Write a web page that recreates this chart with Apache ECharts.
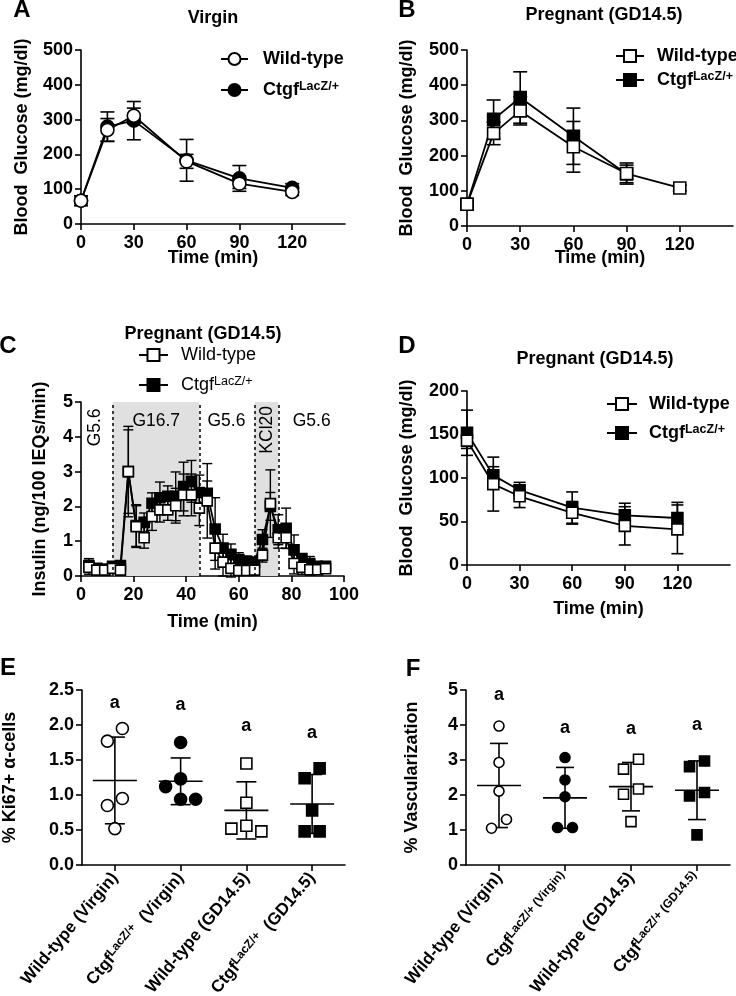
<!DOCTYPE html>
<html><head><meta charset="utf-8">
<script src="https://cdn.jsdelivr.net/npm/echarts@6/dist/echarts.min.js"></script>
<style>html,body{margin:0;padding:0;background:#fff}#c{width:736px;height:996px}</style>
</head><body><div id="c"></div>
<script>
// ---------------- DATA ----------------
const gttTime = [0, 15, 30, 60, 90, 120];
const aWtMean = [67, 270, 311, 180, 116, 92];
const aWtErr  = [14, 33, 22, 20, 14, 10];
const aKoMean = [67, 280, 297, 183, 131, 104];
const aKoErr  = [14, 42, 55, 60, 37, 12];

const bWtMean = [62, 263, 327, 225, 149, 108];
const bWtErr  = [8, 32, 40, 72, 30, 8];
const bKoMean = [62, 303, 365, 255, 148];
const bKoErr  = [10, 55, 73, 80, 25];

const perifTime = [3,6,9,12,15,18,21,24,27,30,33,36,39,42,45,48,51,54,57,60,63,66,69,72,75,78,81,84,87,90,93];
const cWtMean = [0.25,0.17,0.17,0.22,0.17,3.0,1.42,1.1,1.71,1.9,1.9,2.02,2.33,2.33,1.95,2.16,0.8,0.4,0.22,0.16,0.16,0.17,0.6,2.08,1.1,1.1,0.36,0.25,0.18,0.18,0.21];
const cWtErr  = [0.2,0.05,0.05,0.05,0.05,1.3,0.6,0.3,0.4,0.35,0.3,0.5,0.6,0.6,0.5,1.07,0.6,0.4,0.25,0.1,0.1,0.1,0.2,0.97,0.3,0.3,0.3,0.2,0.15,0.1,0.1];
const cKoMean = [0.3,0.22,0.2,0.28,0.3,3.0,1.45,1.54,2.09,2.25,2.29,2.29,2.57,2.72,2.4,2.38,1.35,0.8,0.62,0.47,0.42,0.4,1.05,2.0,1.33,1.37,0.75,0.5,0.36,0.27,0.28];
const cKoErr  = [0.2,0.1,0.1,0.1,0.1,1.2,0.6,0.27,0.3,0.45,0.3,0.7,0.7,0.6,0.5,0.35,0.9,0.4,0.3,0.2,0.15,0.1,0.28,0.4,0.43,0.58,0.43,0.1,0.2,0.15,0.1];
const cPhaseStart = [12, 66];
const cPhaseEnd   = [45, 75];
const cBoundaries = [12, 45, 66, 75];
const cPhaseText  = ['G5.6', 'G16.7', 'G5.6', 'KCl20', 'G5.6'];
const cPhaseX     = [5.5, 28.6, 55.3, 70.6, 87.7];
const cPhaseY     = [4.27, 4.45, 4.45, 4.2, 4.45];
const cPhaseVertical = [true, false, false, true, false];

const ittTime = [0, 15, 30, 60, 90, 120];
const dWtMean = [143, 93, 79, 60, 45, 41];
const dWtErr  = [9, 31, 13, 13, 22, 28];
const dKoMean = [152, 103, 86, 66, 57, 54];
const dKoErr  = [26, 10, 9, 18, 14, 18];

const groups = ['Wild-type (Virgin)', 'CtgfLacZ/+ (Virgin)', 'Wild-type (GD14.5)', 'CtgfLacZ/+ (GD14.5)'];
const eWtVirgin = [1.95, 1.77, 0.95, 0.85, 0.52];
const eKoVirgin = [1.75, 1.23, 1.12, 0.94, 0.94];
const eWtPreg   = [1.45, 0.89, 0.56, 0.52, 0.48];
const eKoPreg   = [1.38, 1.24, 0.78, 0.48, 0.48];
const eLetters  = ['a', 'a', 'a', 'a'];
const eLetterY  = [2.31, 2.28, 1.98, 1.88];
const fWtVirgin = [3.97, 2.93, 2.11, 1.30, 1.05];
const fKoVirgin = [3.07, 2.43, 1.95, 1.07, 1.07];
const fWtPreg   = [3.02, 2.74, 2.17, 2.02, 1.24];
const fKoPreg   = [2.97, 2.81, 2.07, 1.97, 0.86];
const fLetters  = ['a', 'a', 'a', 'a'];
const fLetterY  = [4.86, 3.9, 3.88, 4.0];

// ---------------- HELPERS ----------------
const FONT = '"Liberation Sans", Arial, Helvetica, sans-serif';
const BLACK = '#000';
function pairs(xs, ys) { return ys.map((y, i) => [xs[i], y]); }
function triples(xs, m, e) { return m.map((v, i) => [xs[i], v, e[i]]); }
function mean(a) { return a.reduce((s, v) => s + v, 0) / a.length; }
function sd(a) { const m = mean(a); return Math.sqrt(a.reduce((s, v) => s + (v - m) * (v - m), 0) / (a.length - 1)); }

function errSeries(gi, data, cap, lw) {
  return {
    type: 'custom', xAxisIndex: gi, yAxisIndex: gi, z: 2, silent: true, clip: false,
    encode: { x: 0, y: 1 }, data: data,
    renderItem: function (p, api) {
      const x = api.value(0), y = api.value(1), d = api.value(2);
      const t = api.coord([x, y + d]), b = api.coord([x, y - d]);
      const st = { stroke: BLACK, lineWidth: lw };
      return { type: 'group', children: [
        { type: 'line', shape: { x1: t[0], y1: t[1], x2: b[0], y2: b[1] }, style: st },
        { type: 'line', shape: { x1: t[0] - cap, y1: t[1], x2: t[0] + cap, y2: t[1] }, style: st },
        { type: 'line', shape: { x1: b[0] - cap, y1: b[1], x2: b[0] + cap, y2: b[1] }, style: st }
      ] };
    }
  };
}
function lineSeries(gi, name, data, symbol, open, size, z) {
  return {
    type: 'line', name: name, xAxisIndex: gi, yAxisIndex: gi, data: data, z: z,
    symbol: symbol, symbolSize: size, showAllSymbol: true, silent: true,
    lineStyle: { color: BLACK, width: 1.8 },
    itemStyle: { color: open ? '#fff' : BLACK, borderColor: BLACK, borderWidth: 1.6, opacity: 1 },
    emphasis: { disabled: true }
  };
}
function statSeries(gi, groupsVals, halfMean, halfCap) {
  return {
    type: 'custom', xAxisIndex: gi, yAxisIndex: gi, z: 2, silent: true, clip: false,
    encode: { x: 0, y: 1 },
    data: groupsVals.map((g, i) => [i, mean(g), sd(g)]),
    renderItem: function (p, api) {
      const c = api.value(0), m = api.value(1), s = api.value(2);
      const pm = api.coord([c, m]), pt = api.coord([c, m + s]), pb = api.coord([c, m - s]);
      const st = { stroke: BLACK, lineWidth: 1.6 };
      return { type: 'group', children: [
        { type: 'line', shape: { x1: pm[0] - halfMean, y1: pm[1], x2: pm[0] + halfMean, y2: pm[1] }, style: st },
        { type: 'line', shape: { x1: pt[0], y1: pt[1], x2: pb[0], y2: pb[1] }, style: st },
        { type: 'line', shape: { x1: pt[0] - halfCap, y1: pt[1], x2: pt[0] + halfCap, y2: pt[1] }, style: st },
        { type: 'line', shape: { x1: pb[0] - halfCap, y1: pb[1], x2: pb[0] + halfCap, y2: pb[1] }, style: st }
      ] };
    }
  };
}
function letterSeries(gi, letters, ys) {
  return {
    type: 'custom', xAxisIndex: gi, yAxisIndex: gi, z: 5, silent: true, clip: false,
    encode: { x: 0, y: 1 },
    data: ys.map((y, i) => [i, y, i]),
    renderItem: function (p, api) {
      const pt = api.coord([api.value(0), api.value(1)]);
      return { type: 'text', x: pt[0], y: pt[1],
        style: { text: letters[api.value(2)], font: 'bold 18px ' + FONT, fill: BLACK, align: 'center', verticalAlign: 'middle' } };
    }
  };
}
// horizontal spreading of overlapping dots (computed, GraphPad-like)
function swarm(vals, ppu, diam, step) {
  const order = vals.map((v, i) => i).sort((a, b) => vals[b] - vals[a]);
  const off = vals.map(() => 0);
  const placed = [];
  order.forEach(i => {
    const y = vals[i] * ppu;
    let chosen = null;
    for (let k = 0; k <= 3 && chosen === null; k++) {
      const cands = k === 0 ? [0] : [-k * step, k * step];
      let bestD = -1;
      cands.forEach(c => {
        let md = Infinity;
        placed.forEach(p => { md = Math.min(md, Math.hypot(c - p[0], y - p[1])); });
        if (md >= diam && md > bestD) { bestD = md; chosen = c; }
      });
    }
    off[i] = chosen === null ? 0 : chosen;
    placed.push([off[i], y]);
  });
  let cluster = [order[0]];
  const flush = () => { const m = cluster.reduce((s, j) => s + off[j], 0) / cluster.length; cluster.forEach(j => off[j] -= m); };
  for (let n = 1; n < order.length; n++) {
    if ((vals[order[n - 1]] - vals[order[n]]) * ppu < diam) cluster.push(order[n]);
    else { flush(); cluster = [order[n]]; }
  }
  flush();
  return off;
}
function dotSeries(gi, cat, vals, symbol, open, size, ppu) {
  const off = swarm(vals, ppu, size + 1, 15);
  return {
    type: 'scatter', xAxisIndex: gi, yAxisIndex: gi, z: 4, silent: true,
    symbol: symbol, symbolSize: size,
    itemStyle: { color: open ? '#fff' : BLACK, borderColor: BLACK, borderWidth: 1.6, opacity: 1 },
    data: vals.map((v, i) => ({ value: [cat, v], symbolOffset: [off[i], 0] }))
  };
}

// ---------------- LAYOUT ----------------
const gridBoxes = [
  { left: 81, top: 50, width: 264, height: 174 },
  { left: 467, top: 50, width: 266, height: 176 },
  { left: 81, top: 402, width: 263, height: 174 },
  { left: 467, top: 391, width: 263, height: 174 },
  { left: 82, top: 690, width: 263, height: 175 },
  { left: 466, top: 690, width: 264, height: 175 }
];
const boldText = { color: BLACK, fontFamily: FONT, fontWeight: 'bold', fontSize: 17 };
function axisCommon() {
  return {
    axisLine: { show: true, onZero: false, lineStyle: { color: BLACK, width: 1.6 } },
    axisTick: { show: true, length: 6, lineStyle: { color: BLACK, width: 1.6 } },
    splitLine: { show: false },
    nameMoveOverlap: false,
    nameTextStyle: Object.assign({}, boldText, { fontSize: 18 })
  };
}
function timeX(gi, max, interval, shownTicks, gap) {
  const a = axisCommon();
  a.gridIndex = gi; a.type = 'value'; a.min = 0; a.max = max; a.interval = interval;
  a.name = 'Time (min)'; a.nameLocation = 'middle'; a.nameGap = gap;
  a.axisLabel = Object.assign({ margin: 10 }, boldText, { fontSize: 18 });
  if (shownTicks) { a.axisLabel.customValues = shownTicks; a.axisTick.customValues = shownTicks; }
  return a;
}
function valY(gi, max, interval, name, gap, fmt) {
  const a = axisCommon();
  a.gridIndex = gi; a.type = 'value'; a.min = 0; a.max = max; a.interval = interval;
  a.name = name; a.nameLocation = 'middle'; a.nameGap = gap; a.nameRotate = 90;
  a.axisLabel = Object.assign({ margin: 8 }, boldText, { fontSize: 18 });
  if (fmt) a.axisLabel.formatter = fmt;
  return a;
}
function catX(gi, smallTail) {
  const a = axisCommon();
  a.gridIndex = gi; a.type = 'category'; a.data = groups; a.boundaryGap = true;
  a.axisTick.alignWithLabel = true;
  a.axisLabel = {
    interval: 0, rotate: 50, margin: 10, color: BLACK,
    formatter: function (name) {
      const m = name.match(/^Ctgf(LacZ\/\+)\s*(.*)$/);
      if (!m) return '{b|' + name + '}';
      return smallTail ? '{b|Ctgf}{s|' + m[1] + ' ' + m[2] + '}' : '{b|Ctgf}{s|' + m[1] + '}{b|  ' + m[2] + '}';
    },
    rich: {
      b: { fontFamily: FONT, fontWeight: 'bold', fontSize: 17, color: BLACK, lineHeight: 19 },
      s: { fontFamily: FONT, fontWeight: 'bold', fontSize: 12, color: BLACK, verticalAlign: 'top', lineHeight: 13 }
    }
  };
  return a;
}
const gttShown = [0, 30, 60, 90, 120];

// legends
const legendLabels = {
  'A-wt': 'Wild-type', 'A-ko': 'Ctgf|LacZ/+',
  'B-wt': 'Wild-type', 'B-ko': 'Ctgf|LacZ/+',
  'C-wt': 'Wild-type', 'C-ko': 'Ctgf|LacZ/+',
  'D-wt': 'Wild-type', 'D-ko': 'Ctgf|LacZ/+'
};
function legend(name, left, centerY, bold, spacer, iw) {
  const w = bold ? 'bold' : 'normal';
  return {
    data: [name], left: left, top: centerY - 10, padding: 0, orient: 'vertical',
    itemWidth: iw, itemHeight: 15, selectedMode: false,
    formatter: function (n) {
      const parts = legendLabels[n].split('|');
      return parts.length > 1 ? '{g| }{b|' + parts[0] + '}{s|' + parts[1] + '}' : '{g| }{b|' + parts[0] + '}';
    },
    textStyle: {
      rich: {
        g: { width: spacer, fontSize: 10 },
        b: { fontFamily: FONT, fontWeight: w, fontSize: 18, color: BLACK, lineHeight: 20 },
        s: { fontFamily: FONT, fontWeight: w, fontSize: 12.5, color: BLACK, verticalAlign: 'top', lineHeight: 12 }
      }
    }
  };
}

const texts = [
  ['A', 22, 10, 24], ['Virgin', 213, 18, 18],
  ['B', 407, 10, 24], ['Pregnant (GD14.5)', 604, 15, 18],
  ['C', 8, 346, 24], ['Pregnant (GD14.5)', 203, 334, 18],
  ['D', 407, 346, 24], ['Pregnant (GD14.5)', 595, 359, 18],
  ['E', 8, 668, 24], ['F', 413, 669, 24]
];

const ppuE = gridBoxes[4].height / 2.5;
const ppuF = gridBoxes[5].height / 5;

const series = [
  // A
  errSeries(0, triples(gttTime, aKoMean, aKoErr), 7, 1.6),
  errSeries(0, triples(gttTime, aWtMean, aWtErr), 7, 1.6),
  lineSeries(0, 'A-ko', pairs(gttTime, aKoMean), 'circle', false, 13, 3),
  lineSeries(0, 'A-wt', pairs(gttTime, aWtMean), 'circle', true, 13, 4),
  // B
  errSeries(1, triples(gttTime, bKoMean, bKoErr), 7, 1.6),
  errSeries(1, triples(gttTime, bWtMean, bWtErr), 7, 1.6),
  lineSeries(1, 'B-ko', pairs(gttTime, bKoMean), 'rect', false, 12, 3),
  lineSeries(1, 'B-wt', pairs(gttTime, bWtMean), 'rect', true, 12, 4),
  // C background, boundaries and phase labels
  {
    type: 'custom', xAxisIndex: 2, yAxisIndex: 2, z: 1, silent: true, clip: false,
    encode: { x: 0, y: 1 },
    data: cPhaseX.map((x, i) => [x, cPhaseY[i], i]),
    renderItem: function (p, api) {
      const i = api.value(2);
      const pt = api.coord([api.value(0), api.value(1)]);
      return { type: 'text', x: pt[0], y: pt[1], rotation: cPhaseVertical[i] ? Math.PI / 2 : 0,
        style: { text: cPhaseText[i], font: 'normal 17.5px ' + FONT, fill: BLACK, align: 'center', verticalAlign: 'middle' } };
    },
    markArea: {
      silent: true, itemStyle: { color: '#e0e0e0' },
      data: cPhaseStart.map((s, i) => [{ xAxis: s }, { xAxis: cPhaseEnd[i] }])
    },
    markLine: {
      silent: true, symbol: ['none', 'none'], label: { show: false },
      lineStyle: { color: BLACK, type: [3, 3], width: 1.5 },
      data: cBoundaries.map(b => ({ xAxis: b }))
    }
  },
  errSeries(2, triples(perifTime, cKoMean, cKoErr), 5, 1.4),
  errSeries(2, triples(perifTime, cWtMean, cWtErr), 5, 1.4),
  lineSeries(2, 'C-ko', pairs(perifTime, cKoMean), 'rect', false, 10, 3),
  lineSeries(2, 'C-wt', pairs(perifTime, cWtMean), 'rect', true, 10, 4),
  // D
  errSeries(3, triples(ittTime, dKoMean, dKoErr), 6, 1.6),
  errSeries(3, triples(ittTime, dWtMean, dWtErr), 6, 1.6),
  lineSeries(3, 'D-ko', pairs(ittTime, dKoMean), 'rect', false, 11, 3),
  lineSeries(3, 'D-wt', pairs(ittTime, dWtMean), 'rect', true, 11, 4),
  // E
  statSeries(4, [eWtVirgin, eKoVirgin, eWtPreg, eKoPreg], 22, 10),
  dotSeries(4, 0, eWtVirgin, 'circle', true, 12, ppuE),
  dotSeries(4, 1, eKoVirgin, 'circle', false, 12, ppuE),
  dotSeries(4, 2, eWtPreg, 'rect', true, 11, ppuE),
  dotSeries(4, 3, eKoPreg, 'rect', false, 11, ppuE),
  letterSeries(4, eLetters, eLetterY),
  // F
  statSeries(5, [fWtVirgin, fKoVirgin, fWtPreg, fKoPreg], 22, 9),
  dotSeries(5, 0, fWtVirgin, 'circle', true, 10, ppuF),
  dotSeries(5, 1, fKoVirgin, 'circle', false, 10, ppuF),
  dotSeries(5, 2, fWtPreg, 'rect', true, 10, ppuF),
  dotSeries(5, 3, fKoPreg, 'rect', false, 10, ppuF),
  letterSeries(5, fLetters, fLetterY)
];

const option = {
  animation: false,
  backgroundColor: '#fff',
  grid: gridBoxes.map(g => Object.assign({ containLabel: false, outerBoundsMode: 'none' }, g)),
  xAxis: [
    timeX(0, 150, 30, gttShown, 25),
    timeX(1, 150, 30, gttShown, 23),
    timeX(2, 100, 20, null, 37),
    timeX(3, 150, 30, gttShown, 35),
    catX(4, false),
    catX(5, true)
  ],
  yAxis: [
    valY(0, 500, 100, 'Blood  Glucose (mg/dl)', 50),
    valY(1, 500, 100, 'Blood  Glucose (mg/dl)', 51),
    valY(2, 5, 1, 'Insulin (ng/100 IEQs/min)', 32),
    valY(3, 200, 50, 'Blood  Glucose (mg/dl)', 51),
    valY(4, 2.5, 0.5, '% Ki67+ \u03b1-cells', 63, v => v.toFixed(1)),
    valY(5, 5, 1, '% Vascularization', 45)
  ],
  legend: [
    legend('A-wt', 220, 60, true, 10, 27), legend('A-ko', 220, 90, true, 10, 27),
    legend('B-wt', 615, 57, true, 8, 28), legend('B-ko', 615, 80, true, 8, 28),
    legend('C-wt', 138, 356, false, 8, 29), legend('C-ko', 138, 385, false, 8, 29),
    legend('D-wt', 606, 405, true, 7, 30), legend('D-ko', 606, 433, true, 7, 30)
  ],
  graphic: texts.map(t => ({
    type: 'text', x: t[1], y: t[2], silent: true,
    style: { text: t[0], font: 'bold ' + t[3] + 'px ' + FONT, fill: BLACK, align: 'center', verticalAlign: 'middle' }
  })),
  series: series
};

const chart = echarts.init(document.getElementById('c'), null, { renderer: 'canvas', width: 736, height: 996 });
chart.setOption(option);
</script>
</body></html>
